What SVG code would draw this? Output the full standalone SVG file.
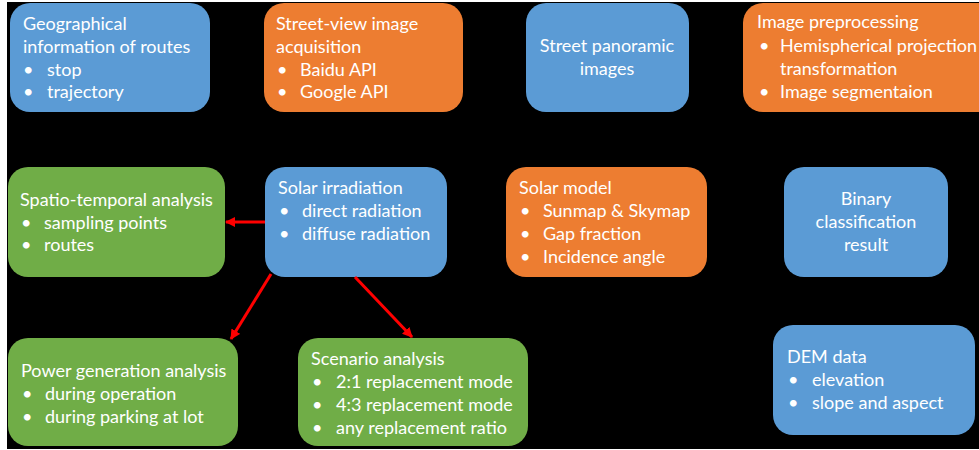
<svg xmlns="http://www.w3.org/2000/svg" width="979" height="450" viewBox="0 0 979 450">
  <style>
    .blue { fill: #5B9BD5; }
    .orange { fill: #ED7D31; }
    .green { fill: #70AD47; }
    text { font-family: Lato, "Open Sans", "Liberation Sans", sans-serif; font-size: 18px; fill: #ffffff; }
    .mid { text-anchor: middle; }
    .link { stroke: #FF0000; stroke-width: 3; fill: none; marker-end: url(#head); }
  </style>
  <defs>
    <marker id="head" viewBox="0 0 10 10" refX="9" refY="5" markerWidth="3.4" markerHeight="3.4" orient="auto" markerUnits="strokeWidth">
      <path d="M0,0 L10,5 L0,10 Z" fill="#FF0000"/>
    </marker>
  </defs>

  <!-- canvas -->
  <rect x="0" y="0" width="979" height="450" fill="#ffffff"/>
  <rect x="7" y="2" width="972" height="447" fill="#000000"/>

  <!-- top row -->
  <g id="geo-info">
    <rect class="blue" x="10" y="3" width="200" height="109" rx="20"/>
    <text x="23" y="30">Geographical</text>
    <text x="23" y="53">information of routes</text>
    <text x="23" y="76">•</text><text x="47" y="76">stop</text>
    <text x="23" y="98">•</text><text x="47" y="98">trajectory</text>
  </g>

  <g id="image-acquisition">
    <rect class="orange" x="264" y="3" width="199" height="109" rx="20"/>
    <text x="276" y="30">Street-view image</text>
    <text x="276" y="53">acquisition</text>
    <text x="277" y="76">•</text><text x="300" y="76">Baidu API</text>
    <text x="277" y="98">•</text><text x="300" y="98">Google API</text>
  </g>

  <g id="panoramic-images">
    <rect class="blue" x="526" y="3" width="163" height="109" rx="20"/>
    <text class="mid" x="607" y="52">Street panoramic</text>
    <text class="mid" x="607" y="75">images</text>
  </g>

  <g id="preprocessing">
    <rect class="orange" x="743" y="3" width="260" height="109" rx="20"/>
    <text x="757" y="28">Image preprocessing</text>
    <text x="759" y="52">•</text><text x="780" y="52">Hemispherical projection</text>
    <text x="780" y="75">transformation</text>
    <text x="759" y="98">•</text><text x="780" y="98">Image segmentaion</text>
  </g>

  <!-- middle row -->
  <g id="spatio-temporal">
    <rect class="green" x="8" y="167" width="217" height="110" rx="20"/>
    <text x="20" y="206">Spatio-temporal analysis</text>
    <text x="21" y="229">•</text><text x="44" y="229">sampling points</text>
    <text x="21" y="251">•</text><text x="44" y="251">routes</text>
  </g>

  <g id="solar-irradiation">
    <rect class="blue" x="265" y="167" width="182" height="110" rx="20"/>
    <text x="278" y="194">Solar irradiation</text>
    <text x="279" y="217">•</text><text x="302" y="217">direct radiation</text>
    <text x="279" y="240">•</text><text x="302" y="240">diffuse radiation</text>
  </g>

  <g id="solar-model">
    <rect class="orange" x="506" y="167" width="201" height="110" rx="20"/>
    <text x="519" y="194">Solar model</text>
    <text x="520" y="217">•</text><text x="543" y="217">Sunmap &amp; Skymap</text>
    <text x="520" y="240">•</text><text x="543" y="240">Gap fraction</text>
    <text x="520" y="263">•</text><text x="543" y="263">Incidence angle</text>
  </g>

  <g id="binary-classification">
    <rect class="blue" x="784" y="167" width="164" height="110" rx="20"/>
    <text class="mid" x="866" y="205">Binary</text>
    <text class="mid" x="866" y="228">classification</text>
    <text class="mid" x="866" y="251">result</text>
  </g>

  <!-- bottom row -->
  <g id="power-generation">
    <rect class="green" x="8" y="338" width="230" height="108" rx="20"/>
    <text x="21" y="377">Power generation analysis</text>
    <text x="22" y="400">•</text><text x="45" y="400">during operation</text>
    <text x="22" y="423">•</text><text x="45" y="423">during parking at lot</text>
  </g>

  <g id="scenario-analysis">
    <rect class="green" x="298" y="338" width="230" height="108" rx="20"/>
    <text x="311" y="365">Scenario analysis</text>
    <text x="312" y="388">•</text><text x="336" y="388">2:1 replacement mode</text>
    <text x="312" y="411">•</text><text x="336" y="411">4:3 replacement mode</text>
    <text x="312" y="434">•</text><text x="336" y="434">any replacement ratio</text>
  </g>

  <g id="dem-data">
    <rect class="blue" x="773" y="325" width="202" height="110" rx="20"/>
    <text x="787" y="363">DEM data</text>
    <text x="788" y="386">•</text><text x="812" y="386">elevation</text>
    <text x="788" y="409">•</text><text x="812" y="409">slope and aspect</text>
  </g>

  <!-- connectors -->
  <g id="connectors">
    <line class="link" x1="265" y1="222" x2="226" y2="222"/>
    <line class="link" x1="271" y1="274" x2="231" y2="339"/>
    <line class="link" x1="355" y1="277" x2="412" y2="337"/>
  </g>
</svg>
